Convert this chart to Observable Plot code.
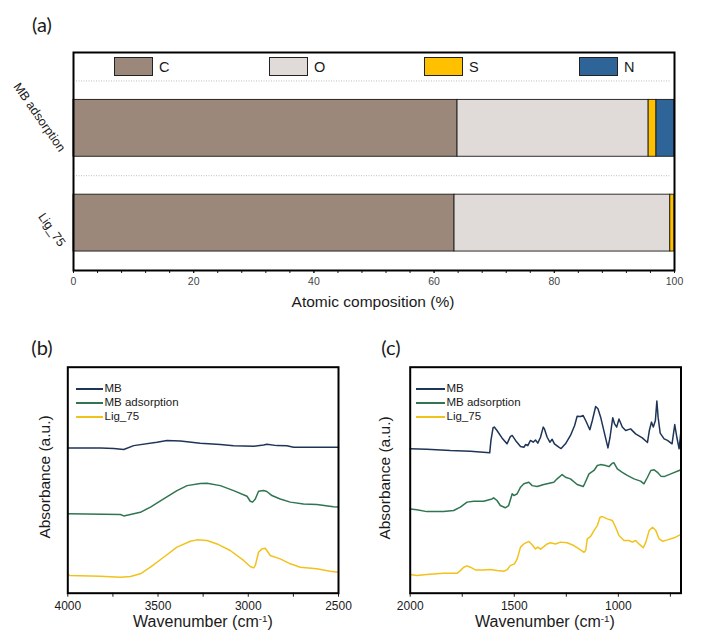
<!DOCTYPE html>
<html><head><meta charset="utf-8">
<script src="https://cdn.jsdelivr.net/npm/d3@7"></script>
<script src="https://cdn.jsdelivr.net/npm/@observablehq/plot@0.6"></script>
<style>
body{margin:0;background:#fff;}
#root{position:relative;width:701px;height:644px;overflow:hidden;background:#fff;font-family:"Liberation Sans",Arial,sans-serif;color:#1a1a1a;}
.abs{position:absolute;white-space:nowrap;}
sup.s{font-size:0.62em;position:relative;top:-0.5em;vertical-align:baseline;}
</style></head><body><div id="root"></div>
<script>
// ---------- Panel (a): atomic composition ----------
const samples = ["MB adsorption", "Lig_75"];
const elements = ["C", "O", "S", "N"];
const elementColors = ["#9b887b", "#e0dbd8", "#ffc000", "#2f6498"];
const compMB = [63.9, 31.8, 1.3, 3.0];
const compLig = [63.4, 35.9, 0.7, 0];
const compTicks = [0, 20, 40, 60, 80, 100];
const compMinorTicks = d3.range(0, 101, 4);

// ---------- Panels (b), (c): FTIR spectra ----------
const seriesNames = ["MB", "MB adsorption", "Lig_75"];
const seriesColors = ["#1f3557", "#2f7550", "#f2c21c"];

const bMB = [[4000,64.3],[3819,64.3],[3745,64.0],[3690,63.6],[3635,65.3],[3506,66.8],[3450,67.6],[3376,67.3],[3266,66.4],[3155,65.8],[3081,65.2],[2970,65.0],[2915,65.6],[2897,65.9],[2841,65.3],[2786,65.2],[2749,64.6],[2500,64.6]];
const bMBads = [[4000,35.1],[3708,34.8],[3690,34.2],[3598,35.8],[3542,38.1],[3469,41.7],[3395,45.4],[3339,47.6],[3266,48.5],[3229,48.7],[3155,47.6],[3081,45.4],[3007,42.9],[2989,40.7],[2976,40.3],[2961,41.7],[2943,45.1],[2915,45.4],[2897,45.0],[2869,43.2],[2823,41.7],[2767,40.3],[2694,39.5],[2620,39.2],[2528,38.3],[2500,38.1]];
const bLig = [[4000,8.6],[3990,7.8],[3819,7.5],[3708,7.1],[3653,7.4],[3598,8.6],[3542,11.5],[3469,15.9],[3395,20.4],[3321,23.0],[3284,23.6],[3229,23.3],[3173,21.8],[3100,18.9],[3026,14.5],[2989,11.8],[2970,11.2],[2961,12.2],[2943,18.1],[2924,19.6],[2906,19.9],[2897,18.9],[2878,16.7],[2823,15.2],[2767,13.0],[2712,11.5],[2620,10.8],[2546,9.7],[2500,9.3]];
const bTicks = [4000, 3500, 3000, 2500];
const bMinorTicks = [3750, 3250, 2750];

const cMB = [[2000,63.9],[1920,63.7],[1807,63.1],[1711,62.8],[1618,62.1],[1612,67.6],[1602,73.2],[1596,73.5],[1583,72.0],[1559,68.7],[1535,66.1],[1519,69.3],[1510,69.8],[1494,67.6],[1470,64.9],[1454,64.6],[1445,65.8],[1435,65.3],[1422,67.6],[1409,66.8],[1398,67.8],[1387,66.4],[1374,69.0],[1361,73.5],[1355,72.7],[1342,69.0],[1329,66.8],[1318,68.1],[1307,66.1],[1286,64.6],[1275,64.0],[1254,66.1],[1230,69.8],[1210,74.2],[1198,78.3],[1181,78.2],[1169,78.6],[1157,76.4],[1137,72.3],[1125,76.4],[1109,82.6],[1098,81.6],[1085,77.9],[1066,70.5],[1050,64.3],[1040,69.0],[1027,77.6],[1018,74.9],[1008,73.5],[997,77.1],[981,73.5],[965,72.0],[941,72.7],[917,70.5],[885,68.7],[860,66.7],[851,72.0],[841,75.7],[832,73.5],[822,76.4],[815,85.0],[809,77.9],[799,70.8],[780,68.3],[764,67.6],[742,66.1],[729,74.6],[719,69.0],[708,63.9],[699,72.0]];
const cMBads = [[2000,37.3],[1968,36.9],[1920,36.1],[1840,36.1],[1791,36.6],[1759,38.1],[1727,40.3],[1695,40.7],[1647,40.7],[1607,41.7],[1599,42.2],[1583,41.0],[1567,38.8],[1543,37.8],[1527,38.8],[1510,44.0],[1502,43.2],[1486,44.0],[1470,46.9],[1454,48.4],[1430,49.1],[1414,47.6],[1390,47.2],[1358,48.1],[1310,49.1],[1294,50.6],[1270,52.5],[1254,51.3],[1230,50.6],[1198,48.1],[1169,47.2],[1162,48.4],[1141,52.8],[1117,54.3],[1101,56.5],[1085,56.9],[1061,56.5],[1045,56.0],[1029,57.5],[1021,57.7],[1005,55.0],[981,53.5],[957,52.1],[925,50.6],[893,49.6],[877,48.4],[860,51.3],[844,54.3],[828,54.6],[812,53.5],[796,51.8],[780,51.6],[748,52.8],[699,54.6]];
const cLig = [[2000,8.3],[1968,7.8],[1920,8.3],[1840,8.8],[1775,8.8],[1759,10.0],[1743,11.5],[1727,12.1],[1711,11.5],[1687,10.3],[1647,10.3],[1615,10.5],[1583,10.0],[1551,9.7],[1535,10.3],[1519,12.2],[1499,13.0],[1486,15.2],[1470,20.4],[1454,21.8],[1430,22.9],[1414,21.4],[1398,19.6],[1387,20.4],[1374,19.5],[1358,20.6],[1342,21.8],[1326,22.3],[1302,21.8],[1278,22.6],[1246,22.3],[1214,21.1],[1189,19.6],[1165,18.1],[1157,18.9],[1149,24.0],[1133,25.1],[1117,27.7],[1101,29.9],[1088,33.6],[1077,33.9],[1053,32.9],[1029,32.2],[1013,29.2],[997,25.5],[973,23.3],[949,23.3],[933,22.6],[917,23.3],[901,21.8],[880,20.1],[868,22.6],[852,27.7],[836,29.2],[820,27.7],[804,24.0],[788,23.0],[764,23.6],[732,24.5],[699,26.0]];
const cTicks = [2000, 1500, 1000];
const cMinorTicks = [1750, 1250, 750];

// ---------- helpers ----------
const root = document.getElementById("root");
const baseStyle = {fontFamily: '"Liberation Sans", Arial, sans-serif', fontSize: "12px", color: "#1a1a1a", background: "none", overflow: "visible"};
function place(el, left, top) {
  const d = document.createElement("div");
  d.className = "abs"; d.style.left = left + "px"; d.style.top = top + "px";
  d.appendChild(el); root.appendChild(d);
}
function text(html, cx, cy, size, opts = {}) {
  const d = document.createElement("div");
  d.className = "abs"; d.innerHTML = html;
  d.style.left = cx + "px"; d.style.top = cy + "px";
  d.style.fontSize = size + "px"; d.style.lineHeight = "1";
  d.style.transform = `translate(${opts.left ? "0" : "-50%"},-50%)` + (opts.rotate ? ` rotate(${opts.rotate}deg)` : "");
  if (opts.family) d.style.fontFamily = opts.family;
  if (opts.color) d.style.color = opts.color;
  root.appendChild(d);
  return d;
}

// ---------- Panel (a) ----------
const comps = [compMB, compLig];
const barRows = [];
samples.forEach((s, i) => {
  let acc = 0;
  const pos = samples.length - i;
  comps[i].forEach((v, j) => { if (v > 0) barRows.push({sample: s, element: elements[j], x1: acc, x2: acc + v, pos}); acc += v; });
});
const sampleRows = samples.map((s, i) => ({s, pos: samples.length - i}));
const gridRows = sampleRows.map(d => d.pos + 0.5);
const halfBar = 0.3;

const plotA = Plot.plot({
  width: 701, height: 320, marginLeft: 73, marginRight: 27, marginTop: 52, marginBottom: 50,
  style: baseStyle,
  x: {domain: [0, 100]},
  y: {domain: [0.5, 2.8], axis: null},
  color: {domain: elements, range: elementColors},
  marks: [
    Plot.ruleY(gridRows, {stroke: "#bdbdbd", strokeWidth: 1, strokeDasharray: "1,1.5", insetLeft: 3, insetRight: 3}),
    Plot.rect(barRows, {x1: "x1", x2: "x2", y1: d => d.pos - halfBar, y2: d => d.pos + halfBar, fill: "element", stroke: "#1a1a1a", strokeWidth: 0.9}),
    Plot.text(sampleRows, {y: "pos", text: "s", frameAnchor: "left", rotate: 55, textAnchor: "end", dx: -11, dy: 22, fontSize: 12.5, fill: "#1a1a1a"}),
    Plot.axisX({ticks: compMinorTicks, tickSize: 3, tickFormat: () => "", label: null}),
    Plot.axisX({ticks: compTicks, tickSize: 3, tickPadding: 4, fontSize: 10.5, fill: "#444", tickFormat: d => String(d), label: null}),
    Plot.frame({stroke: "#000", strokeWidth: 2})
  ]
});
place(plotA, 0, 0);

// legend (a), inside frame
elements.forEach((e, i) => {
  const left = 114 + i * 155;
  const box = document.createElement("div");
  box.className = "abs";
  Object.assign(box.style, {left: left + "px", top: "57px", width: "39px", height: "19px", background: elementColors[i], border: "1px solid #222", boxSizing: "border-box"});
  root.appendChild(box);
  text(e, left + 45, 67, 14.5, {left: true});
});
text("Atomic composition (%)", 373, 302, 15.5);
text("(a)", 42, 24, 20, {family: 'Lato, "Open Sans", sans-serif'});

// ---------- Panels (b), (c) ----------
function spectrumPlot(seriesData, domain, ticks, minor, width, mLeft, mRight) {
  const marks = seriesData.map((arr, k) =>
    Plot.line(arr, {x: d => d[0], y: d => d[1], stroke: seriesColors[k], strokeWidth: 1.5}));
  return Plot.plot({
    width, height: 304, marginLeft: mLeft, marginRight: mRight, marginTop: 26.7, marginBottom: 51.3,
    style: baseStyle,
    x: {domain},
    y: {domain: [0, 100], axis: null},
    marks: [
      ...marks,
      Plot.axisX({ticks: minor, tickSize: 4, tickFormat: () => "", label: null}),
      Plot.axisX({ticks, tickSize: 4, tickPadding: 4, fontSize: 12, tickFormat: d => String(d), label: null}),
      Plot.frame({stroke: "#000", strokeWidth: 2})
    ]
  });
}
place(spectrumPlot([bMB, bMBads, bLig], [4000, 2500], bTicks, bMinorTicks, 350, 67.3, 12), 0, 340);
place(spectrumPlot([cMB, cMBads, cLig], [2000, 699], cTicks, cMinorTicks, 351, 59.7, 20.5), 350, 340);

function spectrumLegend(lineLeft, lineWidth) {
  seriesNames.forEach((n, k) => {
    const y = 388.5 + k * 14.2;
    const ln = document.createElement("div");
    ln.className = "abs";
    Object.assign(ln.style, {left: lineLeft + "px", top: (y - 1) + "px", width: lineWidth + "px", height: "2px", background: seriesColors[k]});
    root.appendChild(ln);
    text(n, lineLeft + lineWidth + 1.5, y, 11.5, {left: true});
  });
}
spectrumLegend(76, 27);
spectrumLegend(416, 29);

const wnTitle = 'Wavenumber (cm<sup class="s">-1</sup>)';
text(wnTitle, 203, 622, 16);
text(wnTitle, 545, 622, 16);
text("Absorbance (a.u.)", 45, 477, 15.5, {rotate: -90});
text("Absorbance (a.u.)", 385, 478, 15.5, {rotate: -90});
text("(b)", 42, 347, 20, {family: 'Lato, "Open Sans", sans-serif'});
text("(c)", 391, 347, 20, {family: 'Lato, "Open Sans", sans-serif'});
</script>
</body></html>
